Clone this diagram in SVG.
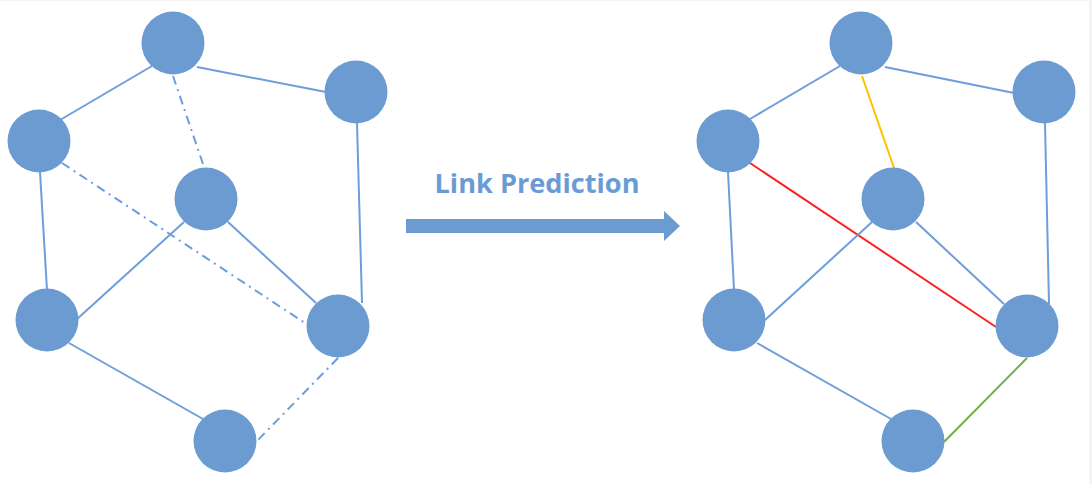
<svg xmlns="http://www.w3.org/2000/svg" width="1092" height="484" viewBox="0 0 1092 484">
<style>
.n{fill:#6b9bd0}
.e{stroke:#6d9edb;stroke-width:2;fill:none}
.d{stroke-dasharray:9 5 2 5}
.lbl{font-family:"Open Sans","Liberation Sans",sans-serif;font-weight:bold;font-size:27px;fill:#6b9bd5}
</style>
<rect width="1092" height="484" fill="#f4f4f4"/>
<rect x="0" y="1" width="1089" height="483" fill="#ffffff"/>
<g id="connectors">
<line class="e" x1="152" y1="66" x2="60" y2="120"/>
<line class="e" x1="197" y1="67" x2="326" y2="92"/>
<line class="e d" x1="173" y1="76" x2="204" y2="167"/>
<line class="e" x1="40" y1="172" x2="47" y2="290"/>
<line class="e d" x1="62" y1="163" x2="308" y2="325"/>
<line class="e" x1="184" y1="222" x2="76" y2="320"/>
<line class="e" x1="228" y1="222" x2="316" y2="303"/>
<line class="e" x1="357" y1="123" x2="362" y2="303"/>
<line class="e" x1="69" y1="343" x2="203" y2="419"/>
<line class="e d" x1="338" y1="358" x2="256" y2="442"/>
<line class="e" x1="840" y1="66" x2="750" y2="119"/>
<line class="e" x1="885" y1="67" x2="1014" y2="93"/>
<line class="e" style="stroke:#ffc000" x1="862" y1="76" x2="894" y2="168"/>
<line class="e" x1="728" y1="172" x2="734" y2="290"/>
<line class="e" style="stroke:#ff2020" x1="750" y1="163" x2="996" y2="327"/>
<line class="e" x1="872" y1="222" x2="765" y2="320"/>
<line class="e" x1="916" y1="222" x2="1004" y2="304"/>
<line class="e" x1="1045" y1="123" x2="1049" y2="304"/>
<line class="e" x1="757" y1="343" x2="891" y2="419"/>
<line class="e" style="stroke:#70ad47" x1="1027" y1="358" x2="944" y2="442"/>
</g>
<g id="L_A"><circle class="n" cx="173" cy="43" r="31.5"/></g>
<g id="L_B"><circle class="n" cx="356" cy="92" r="31.5"/></g>
<g id="L_C"><circle class="n" cx="39" cy="141" r="31.5"/></g>
<g id="L_D"><circle class="n" cx="206" cy="199" r="31.5"/></g>
<g id="L_E"><circle class="n" cx="47" cy="320" r="31.5"/></g>
<g id="L_F"><circle class="n" cx="338" cy="326" r="31.5"/></g>
<g id="L_G"><circle class="n" cx="225" cy="441" r="31.5"/></g>
<g id="R_A"><circle class="n" cx="861" cy="43" r="31.5"/></g>
<g id="R_B"><circle class="n" cx="1044" cy="92" r="31.5"/></g>
<g id="R_C"><circle class="n" cx="728" cy="141" r="31.5"/></g>
<g id="R_D"><circle class="n" cx="893" cy="199" r="31.5"/></g>
<g id="R_E"><circle class="n" cx="734" cy="320" r="31.5"/></g>
<g id="R_F"><circle class="n" cx="1027" cy="326" r="31.5"/></g>
<g id="R_G"><circle class="n" cx="913" cy="441" r="31.5"/></g>
<g id="arrow">
<polygon fill="#6b9bd0" points="406,219 664,219 664,211 680,226 664,241 664,233 406,233"/>
<text class="lbl" x="537" y="193" text-anchor="middle" textLength="205" lengthAdjust="spacingAndGlyphs">Link Prediction</text>
</g>
</svg>
